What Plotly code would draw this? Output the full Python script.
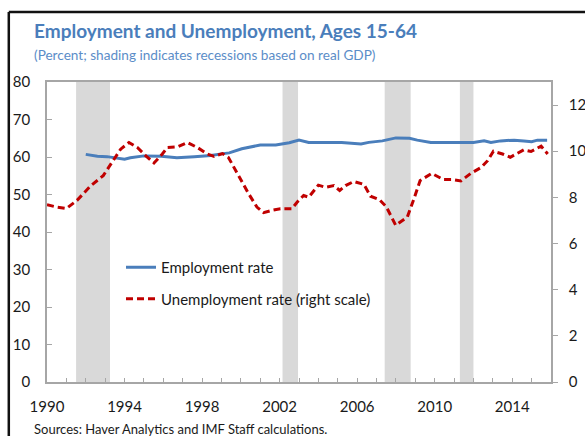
import plotly.graph_objects as go

# ---- data ----
emp_years = [1992.0, 1992.6, 1993.1, 1994.0, 1994.3, 1995.0, 1995.9, 1996.7, 1997.6, 1998.45,
             1999.1, 1999.4, 2000.05, 2000.6, 2001.0, 2001.8, 2002.5, 2003.0, 2003.5, 2004.4,
             2005.2, 2006.2, 2006.6, 2007.3, 2008.0, 2008.7, 2009.1, 2009.8, 2010.7, 2011.5,
             2012.0, 2012.55, 2012.9, 2013.4, 2014.1, 2014.6, 2015.0, 2015.3, 2015.8]
emp_rate = [60.7, 60.2, 60.1, 59.4, 59.8, 60.3, 60.2, 59.8, 60.1, 60.4,
            60.9, 61.1, 62.2, 62.7, 63.2, 63.2, 63.8, 64.5, 63.9, 63.9,
            63.9, 63.5, 63.9, 64.3, 65.1, 65.0, 64.5, 63.9, 63.9, 63.8,
            63.9, 64.3, 63.9, 64.3, 64.5, 64.3, 64.1, 64.5, 64.5]

unemp_years = [1990.0, 1990.5, 1991.0, 1991.55, 1992.25, 1992.9, 1993.3, 1993.8, 1994.23, 1994.66,
               1995.1, 1995.52, 1995.95, 1996.2, 1996.73, 1997.24, 1997.76, 1998.28, 1998.62, 1999.05,
               1999.36, 1999.88, 2000.4, 2000.83, 2001.17, 2001.61, 2002.04, 2002.64, 2002.9, 2003.24,
               2003.5, 2004.0, 2004.37, 2004.8, 2005.1, 2005.4, 2005.83, 2006.35, 2006.69, 2007.15,
               2007.5, 2007.99, 2008.59, 2008.93, 2009.25, 2009.85, 2010.45, 2010.92, 2011.35, 2011.85,
               2012.4, 2012.73, 2013.03, 2013.5, 2013.9, 2014.6, 2014.97, 2015.49, 2015.83]
unemp_rate = [7.68, 7.58, 7.52, 7.87, 8.5, 8.94, 9.45, 10.09, 10.38, 10.16,
              9.8, 9.49, 9.88, 10.16, 10.19, 10.38, 10.16, 9.88, 9.78, 9.9,
              9.73, 8.94, 8.16, 7.58, 7.34, 7.44, 7.51, 7.51, 7.79, 8.08,
              8.01, 8.53, 8.44, 8.51, 8.3, 8.51, 8.69, 8.56, 8.05, 7.9,
              7.6, 6.79, 7.15, 7.94, 8.73, 9.04, 8.77, 8.77, 8.71, 9.03,
              9.3, 9.59, 10.0, 9.88, 9.74, 10.06, 9.99, 10.22, 9.88]

recession_start = [1991.5, 2002.15, 2007.42, 2011.3]
recession_end = [1993.25, 2002.95, 2008.76, 2012.0]

x_ticks = [1990, 1994, 1998, 2002, 2006, 2010, 2014]
left_ticks = [0, 10, 20, 30, 40, 50, 60, 70, 80]
right_ticks = [0, 2, 4, 6, 8, 10, 12]

title_text = "Employment and Unemployment, Ages 15-64"
subtitle_text = "(Percent; shading indicates recessions based on real GDP)"
source_text = "Sources: Haver Analytics and IMF Staff calculations."

# ---- layout helpers (page pixel -> paper); body margin is removed below ----
W, H = 585, 436
PL, PR, PT, PB = 47, 551, 82, 382          # plot area in page pixels
ML, MR, MT, MB = PL, W - PR, PT, H - PB
PW, PH = PR - PL, PB - PT


def px(x):
    return (x - PL) / PW


def py(y):
    return (PB - y) / PH


FONT = "Lato"
AXIS_GRAY = "#a6a6a6"
TXT = "#1a1a1a"

fig = go.Figure()

fig.add_trace(go.Scatter(
    x=emp_years, y=emp_rate, mode="lines", name="Employment rate",
    line=dict(color="#4A7EBB", width=3), legendgroup="a", yaxis="y"))
fig.add_trace(go.Scatter(
    x=unemp_years, y=unemp_rate, mode="lines", name="Unemployment rate (right scale)",
    line=dict(color="#C00000", width=3, dash="7px,4px"), legendgroup="b", yaxis="y2"))

shapes = []
for s, e in zip(recession_start, recession_end):
    shapes.append(dict(type="rect", xref="x", yref="paper", x0=s, x1=e, y0=0, y1=1,
                       fillcolor="#d9d9d9", line=dict(width=0), layer="below"))
# outer frame (top and left)
shapes.append(dict(type="line", xref="paper", yref="paper", x0=px(8.8), x1=px(600),
                   y0=py(12), y1=py(12), line=dict(color="#111111", width=2.5)))
shapes.append(dict(type="line", xref="paper", yref="paper", x0=px(8.8), x1=px(8.8),
                   y0=py(12), y1=py(450), line=dict(color="#111111", width=2.5)))

annotations = [
    dict(text="<b>" + title_text + "</b>", xref="paper", yref="paper", x=px(32), y=py(30),
         xanchor="left", yanchor="middle", showarrow=False,
         font=dict(family=FONT, size=19, color="#4A7EBB")),
    dict(text=subtitle_text, xref="paper", yref="paper", x=px(32), y=py(55),
         xanchor="left", yanchor="middle", showarrow=False,
         font=dict(family=FONT, size=13.6, color="#5B8DC8")),
    dict(text=source_text, xref="paper", yref="paper", x=px(32), y=py(429),
         xanchor="left", yanchor="middle", showarrow=False,
         font=dict(family=FONT, size=13, color=TXT)),
]

fig.update_layout(
    width=W, height=H,
    margin=dict(l=ML, r=MR, t=MT, b=MB, pad=0, autoexpand=False),
    paper_bgcolor="white", plot_bgcolor="white",
    font=dict(family=FONT, size=15, color=TXT),
    showlegend=True,
    legend=dict(x=px(121), y=py(251), xanchor="left", yanchor="top",
                bgcolor="rgba(0,0,0,0)", font=dict(family=FONT, size=15, color=TXT),
                traceorder="grouped", tracegroupgap=9, itemwidth=30),
    shapes=shapes,
    annotations=annotations,
    xaxis=dict(range=[1990, 2016], tickvals=x_ticks, ticks="inside", ticklen=4,
               tickcolor=AXIS_GRAY, showline=True, linecolor=AXIS_GRAY, linewidth=1.5,
               mirror=True, showgrid=False, zeroline=False, ticklabelstandoff=10,
               minor=dict(dtick=1, tick0=1990, ticks="inside", ticklen=4, tickcolor=AXIS_GRAY,
                          showgrid=False),
               tickfont=dict(family=FONT, size=15, color=TXT)),
    yaxis=dict(range=[0, 80], tickvals=left_ticks, ticks="inside", ticklen=5,
               tickcolor=AXIS_GRAY, showline=True, linecolor=AXIS_GRAY, linewidth=1.5,
               mirror=True, showgrid=False, zeroline=False, ticklabelstandoff=12,
               tickfont=dict(family=FONT, size=15, color=TXT)),
    yaxis2=dict(range=[0, 13], tickvals=right_ticks, overlaying="y", side="right",
                ticks="outside", ticklen=5, tickcolor=AXIS_GRAY, showline=True,
                linecolor=AXIS_GRAY, linewidth=1.5, showgrid=False, zeroline=False,
                ticklabelstandoff=8, ticklabeloverflow="allow",
                tickfont=dict(family=FONT, size=15, color=TXT)),
)

fig.write_html(
    "out.html",
    config={"displayModeBar": False},
    post_script="document.body.style.margin='0';document.body.style.overflow='hidden';",
)
